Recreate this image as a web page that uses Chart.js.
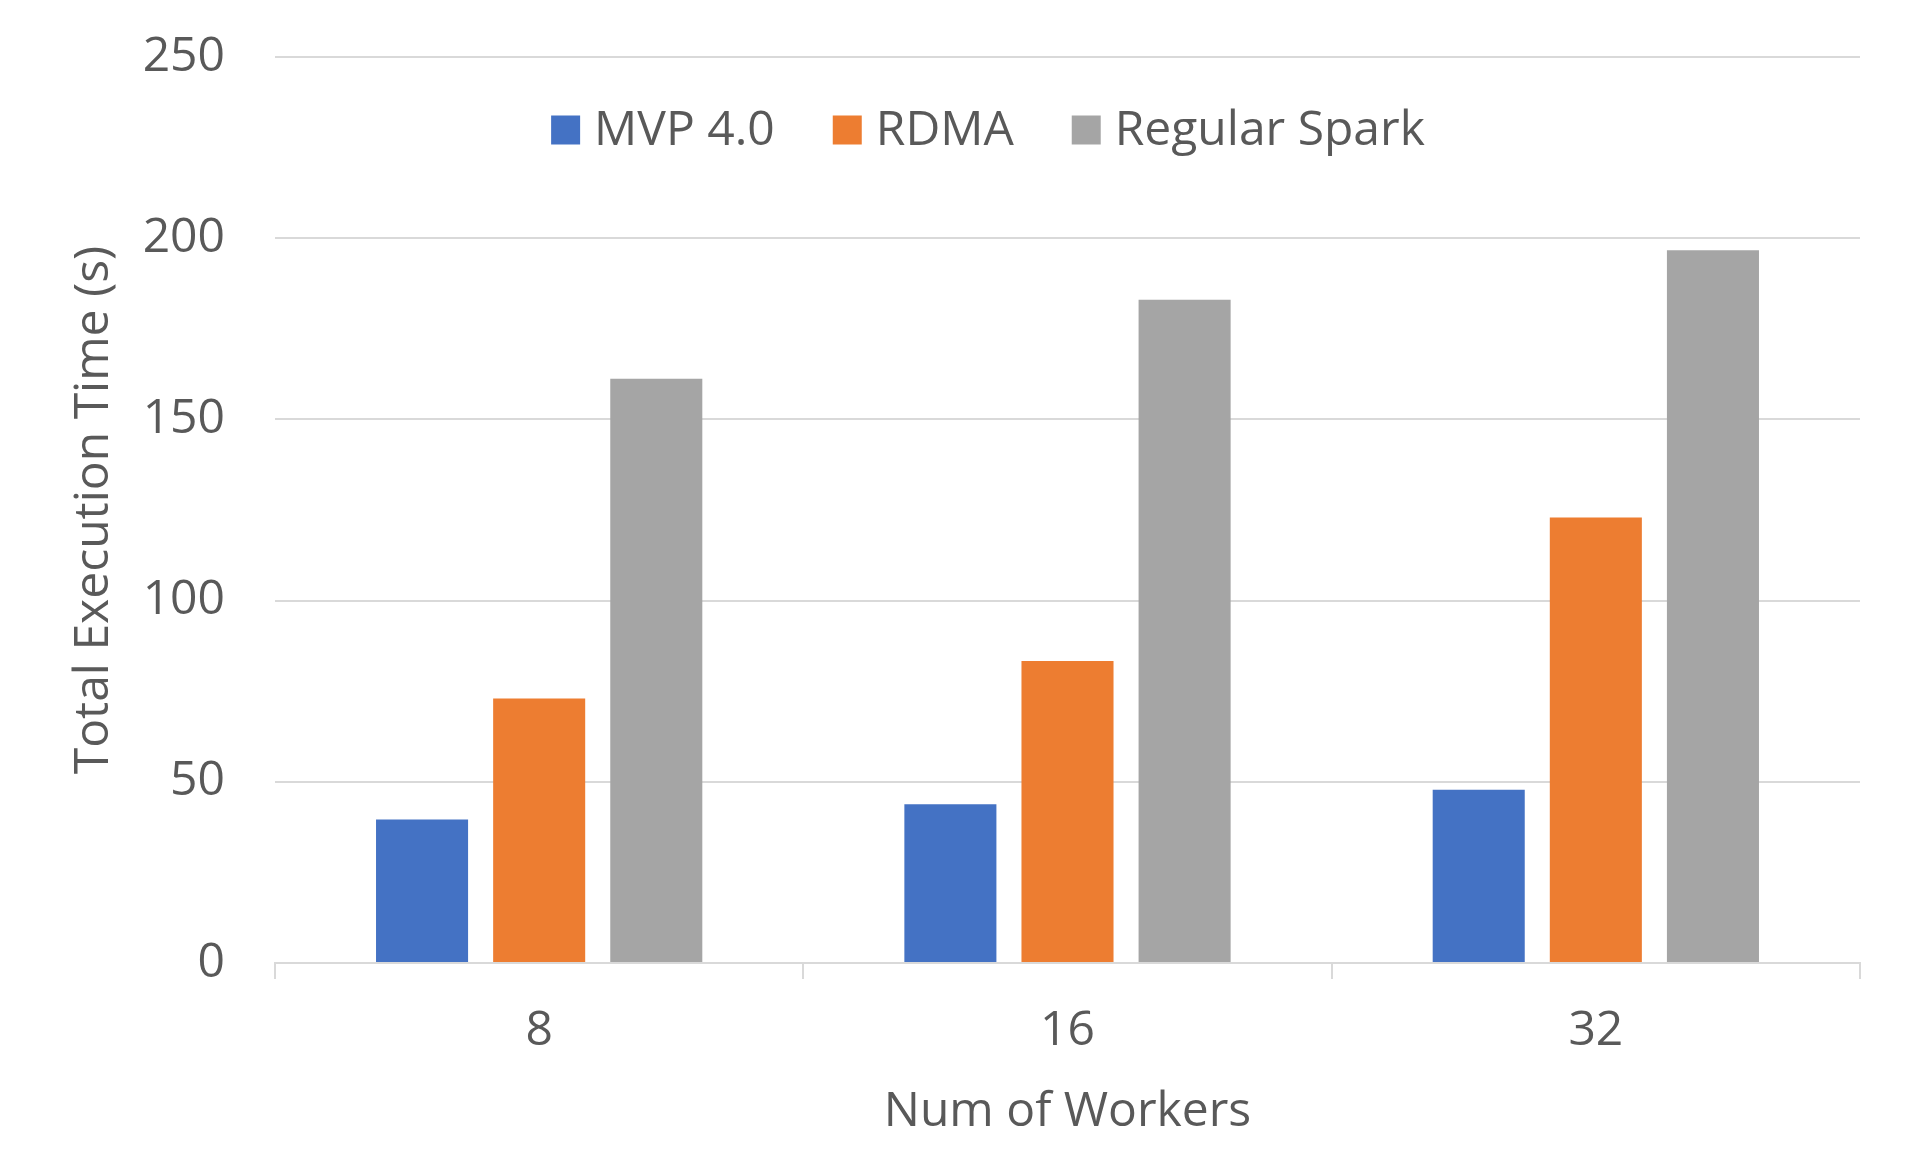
<!DOCTYPE html>
<html>
<head>
<meta charset="utf-8">
<script src="https://cdn.jsdelivr.net/npm/chart.js@4"></script>
<style>
  html, body { margin: 0; padding: 0; background: #ffffff; }
  #wrap { width: 1915px; height: 1155px; }
</style>
</head>
<body>
<div id="wrap"><canvas id="c" width="1915" height="1155"></canvas></div>
<script>
const categories = ['8', '16', '32'];
const seriesNames = ['MVP 4.0', 'RDMA', 'Regular Spark'];
const mvpValues = [39.6, 43.8, 47.8];
const rdmaValues = [73.0, 83.3, 122.9];
const regularValues = [161.2, 183.0, 196.7];
const yTicks = [0, 50, 100, 150, 200, 250];

const colors = ['#4472C4', '#ED7D31', '#A5A5A5'];
const FONT = "'Open Sans', 'Noto Sans', sans-serif";
const FS = 48;
const TXT = '#595959';

const legendPlugin = {
  id: 'insideLegend',
  afterDraw(chart) {
    const ctx = chart.ctx;
    ctx.save();
    ctx.font = FS + 'px ' + FONT;
    ctx.textBaseline = 'middle';
    ctx.fillStyle = TXT;
    const box = 29, gap = 14, itemGap = 58;
    const items = chart.data.datasets.map(d => ({ label: d.label, color: d.backgroundColor, w: ctx.measureText(d.label).width }));
    let total = 0;
    items.forEach((it, i) => { total += box + gap + it.w + (i < items.length - 1 ? itemGap : 0); });
    const cx = 988, cy = 130;
    let x = cx - total / 2;
    items.forEach(it => {
      ctx.fillStyle = it.color;
      ctx.fillRect(x, cy - box / 2, box, box);
      x += box + gap;
      ctx.fillStyle = TXT;
      ctx.fillText(it.label, x, cy + 1);
      x += it.w + itemGap;
    });
    ctx.restore();
  }
};

new Chart(document.getElementById('c'), {
  type: 'bar',
  data: {
    labels: categories,
    datasets: [
      { label: seriesNames[0], data: mvpValues, backgroundColor: colors[0] },
      { label: seriesNames[1], data: rdmaValues, backgroundColor: colors[1] },
      { label: seriesNames[2], data: regularValues, backgroundColor: colors[2] }
    ]
  },
  options: {
    responsive: false,
    animation: false,
    layout: { padding: { left: 0, right: 55, top: 57, bottom: 0 } },
    categoryPercentage: 0.665,
    barPercentage: 0.786,
    plugins: { legend: { display: false }, tooltip: { enabled: false } },
    scales: {
      x: {
        afterFit: s => { s.height = 1155 - 963; },
        grid: { offset: true, drawOnChartArea: false, drawTicks: true, tickLength: 16, color: '#d9d9d9', lineWidth: 2 },
        border: { display: true, color: '#d9d9d9', width: 2 },
        ticks: { color: TXT, font: { family: FONT, size: FS }, padding: 24 },
        title: { display: true, text: 'Num of Workers', color: TXT, font: { family: FONT, size: FS }, padding: { top: 0, bottom: 14 } }
      },
      y: {
        min: 0, max: 250,
        afterFit: s => { s.width = 275; },
        afterBuildTicks: s => { s.ticks = yTicks.map(v => ({ value: v })); },
        grid: { color: '#d9d9d9', lineWidth: 2, drawTicks: true, tickLength: 50, tickColor: 'rgba(0,0,0,0)' },
        border: { display: false },
        ticks: { color: TXT, font: { family: FONT, size: FS }, padding: 0 },
        title: { display: true, text: 'Total Execution Time (s)', color: TXT, font: { family: FONT, size: FS }, padding: { top: 66, bottom: 0 } }
      }
    }
  },
  plugins: [legendPlugin]
});
</script>
</body>
</html>
